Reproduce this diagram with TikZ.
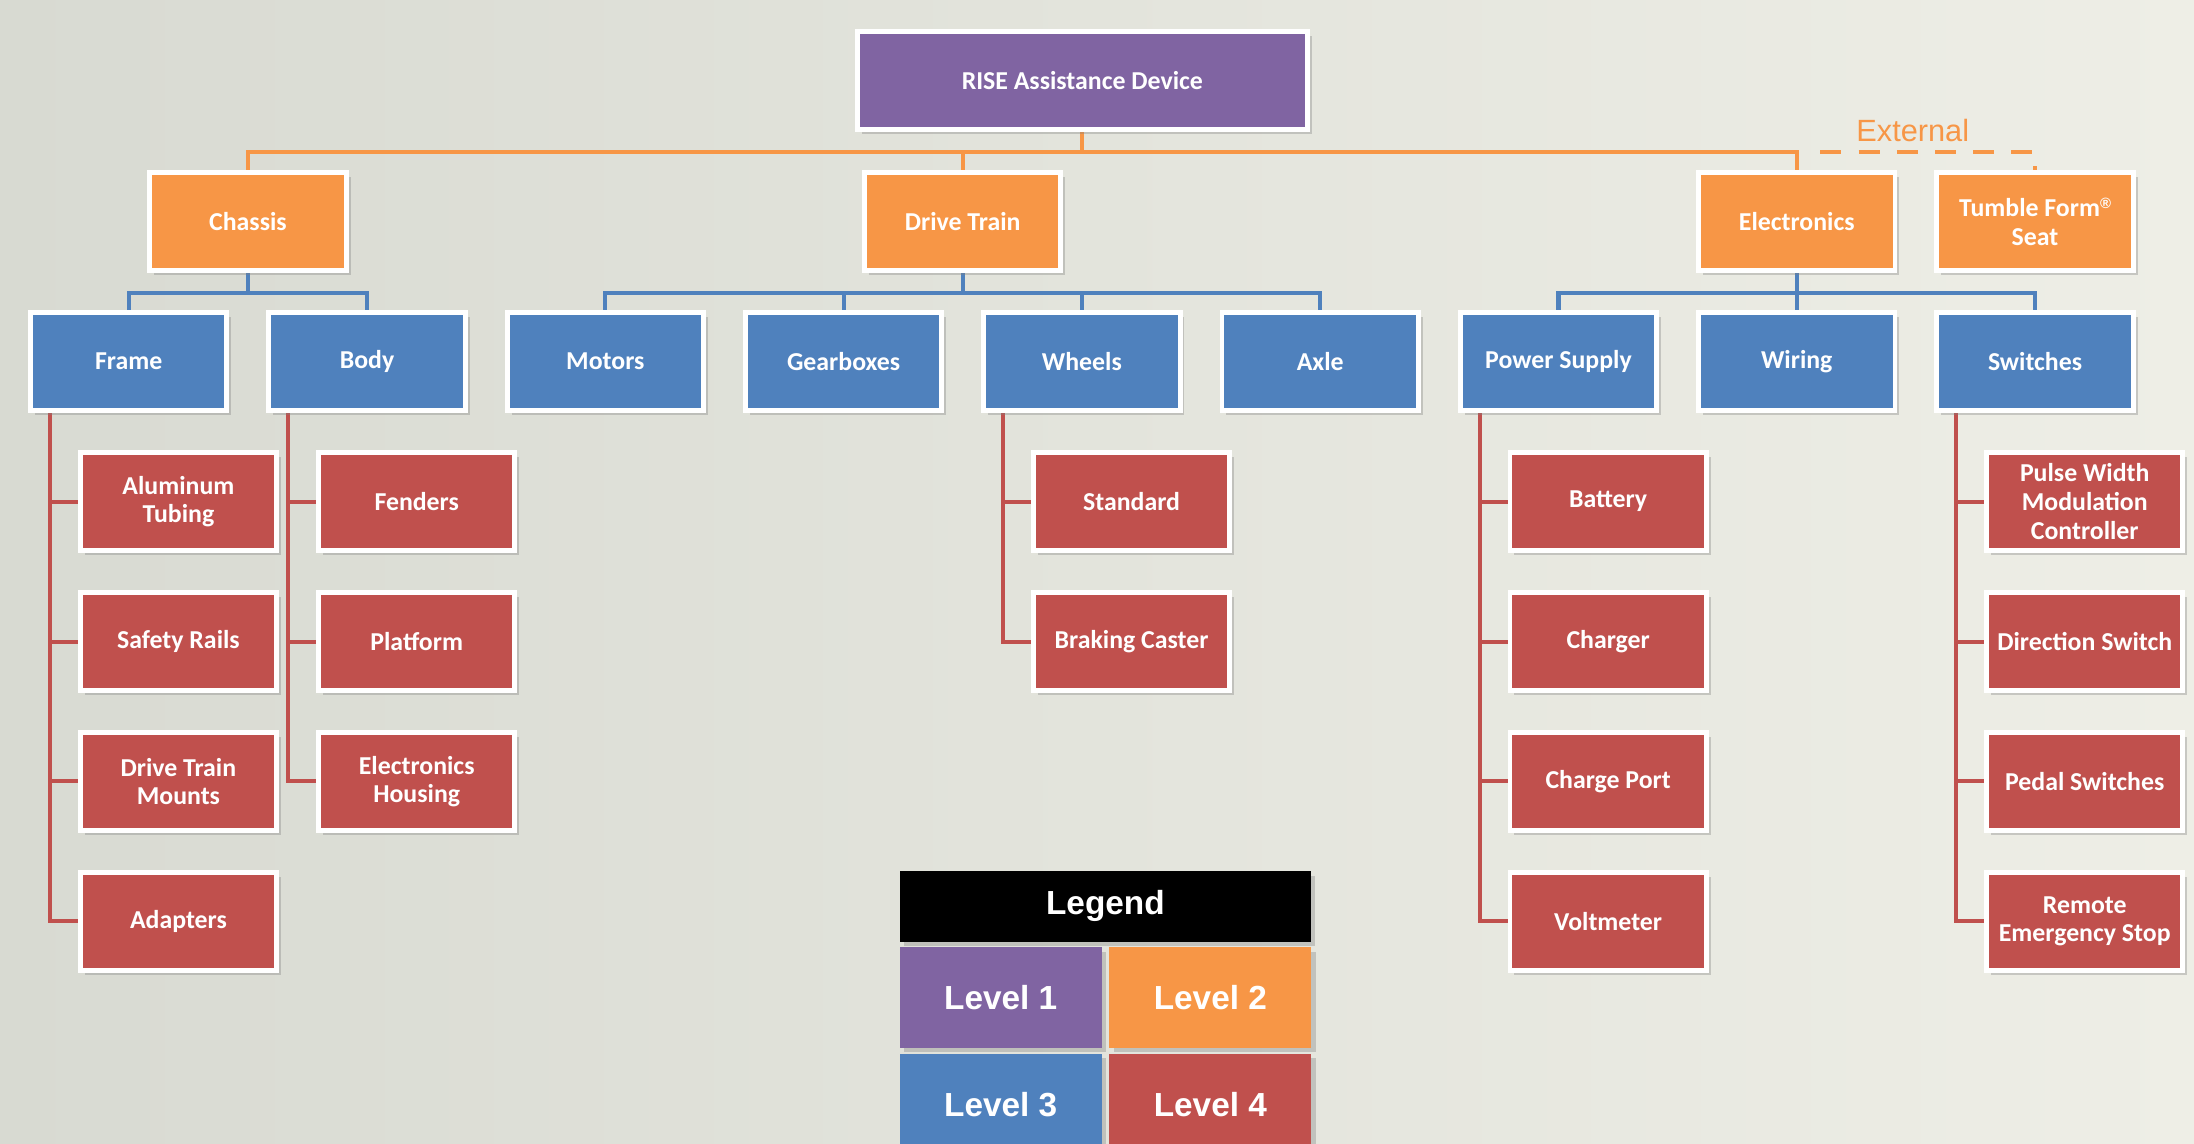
\documentclass[tikz,border=0pt]{standalone}
\usepackage{fontspec}
\setmainfont{Carlito}
\newfontfamily\arialfont{Liberation Sans}
\usepackage{tikz}
\usetikzlibrary{positioning,shadows,backgrounds}

\definecolor{lvlone}{HTML}{8064A2}
\definecolor{lvltwo}{HTML}{F79646}
\definecolor{lvlthree}{HTML}{4F81BD}
\definecolor{lvlfour}{HTML}{C0504D}
\definecolor{bgleft}{HTML}{D8DAD2}
\definecolor{bgmid}{HTML}{E2E8F0}
\definecolor{bgright}{HTML}{EEEEE6}

\begin{document}
\begin{tikzpicture}[x=0.028cm,y=-0.028cm,
	box/.style={rectangle,draw=white,line width=2.8pt,minimum width=3.93cm,minimum height=1.96cm,
		inner sep=1pt,align=center,text=white,font=\bfseries\fontsize{14.7}{16.3}\selectfont,
		drop shadow={shadow xshift=2.5pt,shadow yshift=-2.5pt,opacity=.35}},
	lone/.style={box,fill=lvlone,minimum width=9cm},
	ltwo/.style={box,fill=lvltwo},
	lthree/.style={box,fill=lvlthree},
	lfour/.style={box,fill=lvlfour},
	legbox/.style={rectangle,minimum width=4.04cm,minimum height=2.01cm,inner sep=0pt,text=white,
		font=\arialfont\bfseries\fontsize{19}{22}\selectfont,
		drop shadow={shadow xshift=2.5pt,shadow yshift=-2.5pt,opacity=.35}},
	orgline/.style={draw=lvltwo,line width=2.3pt},
	blueline/.style={draw=lvlthree,line width=2.3pt},
	redline/.style={draw=lvlfour,line width=2.3pt}]

	\useasboundingbox (0,0) rectangle (1568,817);
	\clip (0,0) rectangle (1568,817);

	% level 1 and 2
	\node[lone] (root) at (773.5,57.5) {RISE Assistance Device};
	\node[ltwo] (chassis) at (177.2,158.5) {Chassis};
	\node[ltwo] (drive) at (688,158.5) {Drive Train};
	\node[ltwo] (elec) at (1284.1,158.5) {Electronics};
	\node[ltwo] (seat) at (1454.4,158.5) {Tumble Form\raisebox{0.6ex}{\arialfont\fontsize{8.5}{8.5}\selectfont ®}\\Seat};
	\node[text=lvltwo,font=\arialfont\fontsize{17.5}{20}\selectfont] (ext) at (1367,93) {External};

	% level 3
	\node[lthree] (frame) at (92,258.5) {Frame};
	\node[lthree] (body) at (262.3,258.5) {Body};
	\node[lthree] (motors) at (432.6,258.5) {Motors};
	\node[lthree] (gear) at (602.9,258.5) {Gearboxes};
	\node[lthree] (wheels) at (773.2,258.5) {Wheels};
	\node[lthree] (axle) at (943.5,258.5) {Axle};
	\node[lthree] (power) at (1113.8,258.5) {Power Supply};
	\node[lthree] (wiring) at (1284.1,258.5) {Wiring};
	\node[lthree] (switches) at (1454.4,258.5) {Switches};

	% level 4
	\node[lfour] (alum) at (127.5,358.5) {Aluminum\\Tubing};
	\node[lfour] (rails) at (127.5,458.5) {Safety Rails};
	\node[lfour] (mounts) at (127.5,558.5) {Drive Train\\Mounts};
	\node[lfour] (adapt) at (127.5,658.5) {Adapters};
	\node[lfour] (fenders) at (297.8,358.5) {Fenders};
	\node[lfour] (platform) at (297.8,458.5) {Platform};
	\node[lfour] (housing) at (297.8,558.5) {Electronics\\Housing};
	\node[lfour] (standard) at (808.7,358.5) {Standard};
	\node[lfour] (caster) at (808.7,458.5) {Braking Caster};
	\node[lfour] (battery) at (1149.3,358.5) {Battery};
	\node[lfour] (charger) at (1149.3,458.5) {Charger};
	\node[lfour] (port) at (1149.3,558.5) {Charge Port};
	\node[lfour] (volt) at (1149.3,658.5) {Voltmeter};
	\node[lfour] (pwm) at (1489.9,358.5) {Pulse Width\\Modulation\\Controller};
	\node[lfour] (dirsw) at (1489.9,458.5) {Direction Switch};
	\node[lfour] (pedal) at (1489.9,558.5) {Pedal Switches};
	\node[lfour] (estop) at (1489.9,658.5) {Remote\\Emergency Stop};

	% legend
	\node[legbox,fill=black,minimum width=8.23cm,minimum height=1.41cm] (leg) at (790,647.8) {Legend};
	\node[legbox,fill=lvlone] (legone) at (715.2,712.9) {Level 1};
	\node[legbox,fill=lvltwo] (legtwo) at (865,712.9) {Level 2};
	\node[legbox,fill=lvlthree] (legthree) at (715.2,789.2) {Level 3};
	\node[legbox,fill=lvlfour] (legfour) at (865,789.2) {Level 4};

	\begin{scope}[on background layer]
		\fill[left color=bgleft,middle color=bgmid,right color=bgright] (0,0) rectangle (1568,817);

		\coordinate (rb) at (773.5,108.4);
		\coordinate (dash) at (1301,108.4);
		\coordinate (dcorner) at (1454.4,108.4);
		\draw[orgline] (root) -- (rb);
		\draw[orgline] (rb) -| (chassis);
		\draw[orgline] (rb) -| (drive);
		\draw[orgline] (rb) -| (elec);
		\draw[orgline,dash pattern=on 11.9pt off 9.85pt] (dash) -- (dcorner) -- (seat);

		\coordinate (chb) at (177.2,209.5);
		\coordinate (drb) at (688,209.5);
		\coordinate (elb) at (1284.1,209.5);
		\draw[blueline] (chassis) -- (chb);
		\draw[blueline] (chb) -| (frame);
		\draw[blueline] (chb) -| (body);
		\draw[blueline] (drive) -- (drb);
		\draw[blueline] (drb) -| (motors);
		\draw[blueline] (drb) -| (gear);
		\draw[blueline] (drb) -| (wheels);
		\draw[blueline] (drb) -| (axle);
		\draw[blueline] (elec) -- (elb);
		\draw[blueline] (elb) -| (power);
		\draw[blueline] (elb) -| (wiring);
		\draw[blueline] (elb) -| (switches);

		\coordinate (frl) at ([xshift=-1.575cm]frame.south);
		\coordinate (bol) at ([xshift=-1.575cm]body.south);
		\coordinate (whl) at ([xshift=-1.575cm]wheels.south);
		\coordinate (pol) at ([xshift=-1.575cm]power.south);
		\coordinate (swl) at ([xshift=-1.575cm]switches.south);
		\draw[redline] (frl) |- (alum);
		\draw[redline] (frl) |- (rails);
		\draw[redline] (frl) |- (mounts);
		\draw[redline] (frl) |- (adapt);
		\draw[redline] (bol) |- (fenders);
		\draw[redline] (bol) |- (platform);
		\draw[redline] (bol) |- (housing);
		\draw[redline] (whl) |- (standard);
		\draw[redline] (whl) |- (caster);
		\draw[redline] (pol) |- (battery);
		\draw[redline] (pol) |- (charger);
		\draw[redline] (pol) |- (port);
		\draw[redline] (pol) |- (volt);
		\draw[redline] (swl) |- (pwm);
		\draw[redline] (swl) |- (dirsw);
		\draw[redline] (swl) |- (pedal);
		\draw[redline] (swl) |- (estop);
	\end{scope}
\end{tikzpicture}
\end{document}
